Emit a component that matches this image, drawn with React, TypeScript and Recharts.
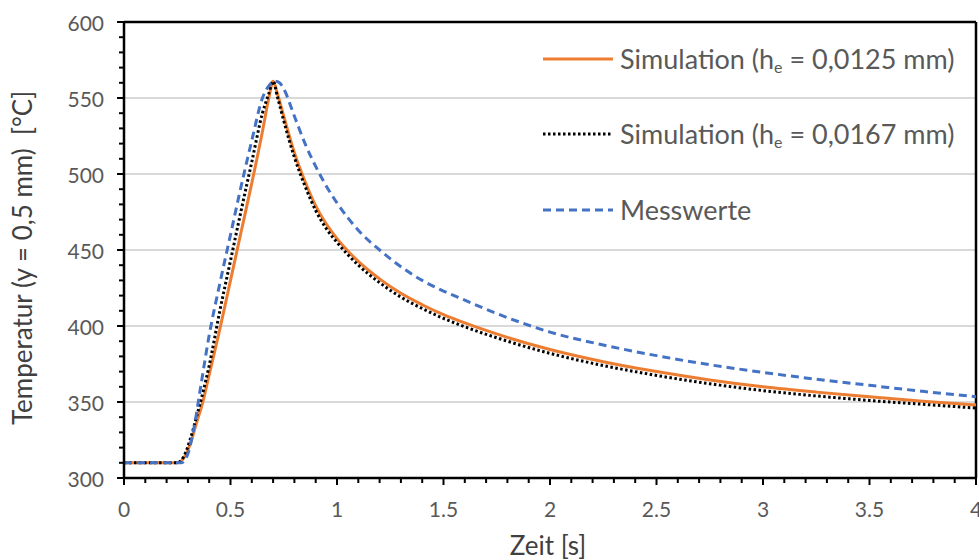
import {
  CartesianGrid,
  Line,
  LineChart,
  ReferenceLine,
  XAxis,
  YAxis,
} from "recharts";

// Simulation (h_e = 0,0125 mm)
const simFineTime = [0, 0.25, 0.28, 0.31, 0.34, 0.37, 0.4, 0.45, 0.5, 0.55, 0.6, 0.65, 0.68, 0.7, 0.72, 0.75, 0.8, 0.85, 0.9, 0.95, 1, 1.05, 1.1, 1.2, 1.3, 1.4, 1.5, 1.6, 1.8, 2, 2.25, 2.5, 2.75, 3, 3.25, 3.5, 3.75, 4];
const simFineTemp = [310, 310, 313, 322, 336, 350, 368, 398, 430, 462, 494, 528, 550, 561, 553, 538, 514, 495, 479, 467, 457.5, 449.5, 442.5, 431, 421.5, 414, 407.5, 402, 392.5, 384.5, 376.5, 370, 364.5, 360, 356.5, 353.5, 350.5, 348];

// Simulation (h_e = 0,0167 mm)
const simCoarseTime = simFineTime;
const simCoarseTemp = [310, 310, 314, 325, 340, 356, 374, 410, 443, 476, 508, 540, 553, 561, 551, 535, 511, 492, 476, 464, 455, 447, 440, 428.5, 419, 411.5, 405, 399.5, 390, 382, 374, 367.5, 362, 357.5, 354, 351, 348.5, 346];

// Messwerte
const measTime = [0, 0.27, 0.3, 0.33, 0.36, 0.4, 0.45, 0.5, 0.55, 0.6, 0.65, 0.68, 0.71, 0.73, 0.75, 0.8, 0.85, 0.9, 0.95, 1, 1.1, 1.2, 1.3, 1.4, 1.5, 1.6, 1.7, 1.8, 1.9, 2, 2.25, 2.5, 2.75, 3, 3.25, 3.5, 3.75, 4];
const measTemp = [310, 310, 316, 334, 360, 394, 428, 460, 492, 522, 550, 558, 561, 560, 556, 538, 520, 505, 492, 481, 463, 450, 439, 430, 423, 417, 411, 405.5, 400.5, 396, 387.5, 380.5, 374.5, 369.5, 365, 361, 357, 353.5];

const xMajorTicks = [0, 0.5, 1, 1.5, 2, 2.5, 3, 3.5, 4];
const yMajorTicks = [300, 350, 400, 450, 500, 550, 600];
const gridValues = [350, 400, 450, 500, 550];
const legendNames = ["0,0125", "0,0167", "Messwerte"];

const xTicks = Array.from({ length: 41 }, (_, i) => i / 10);
const yTicks = Array.from({ length: 31 }, (_, i) => 300 + i * 10);

const FONT = 'Lato, "Open Sans", sans-serif';
const ORANGE = "#ED7D31";
const BLUE = "#4472C4";

const toPoints = (ts: number[], vs: number[]) => ts.map((t, i) => ({ t, v: vs[i] }));

const fineData = toPoints(simFineTime, simFineTemp);
const coarseData = toPoints(simCoarseTime, simCoarseTemp);
const measData = toPoints(measTime, measTemp);

function XTick(props: any) {
  const { x, y, payload } = props;
  const v = payload.value as number;
  const major = xMajorTicks.some((m) => Math.abs(m - v) < 1e-6);
  return (
    <g>
      <line x1={x} x2={x} y1={y} y2={y + (major ? 7 : 5)} stroke="#000" strokeWidth={2} />
      {major && (
        <text x={x} y={y + 30} textAnchor="middle" dominantBaseline="central"
          fontFamily={FONT} fontSize={21} fill="#595959">
          {String(v)}
        </text>
      )}
    </g>
  );
}

function YTick(props: any) {
  const { x, y, payload } = props;
  const v = payload.value as number;
  const major = yMajorTicks.includes(v);
  return (
    <g>
      <line x1={x - (major ? 7 : 5)} x2={x} y1={y} y2={y} stroke="#000" strokeWidth={2} />
      {major && (
        <text x={x - 20} y={y} textAnchor="end" dominantBaseline="central"
          fontFamily={FONT} fontSize={21} fill="#595959">
          {v}
        </text>
      )}
    </g>
  );
}

function ChartLegend() {
  const styles = [
    { stroke: ORANGE, dash: undefined },
    { stroke: "#000", dash: "2.5 2.5" },
    { stroke: BLUE, dash: "8 5" },
  ];
  return (
    <div style={{ position: "absolute", left: 543, top: 21, fontFamily: FONT, fontSize: 27, color: "#595959" }}>
      {legendNames.map((name, i) => (
        <div key={name} style={{ height: 75.5, display: "flex", alignItems: "center", whiteSpace: "nowrap" }}>
          <svg width={72} height={8} style={{ marginRight: 5 }}>
            <line x1={0} x2={70} y1={4} y2={4} stroke={styles[i].stroke}
              strokeWidth={3} strokeDasharray={styles[i].dash} />
          </svg>
          {i < 2 ? (
            <span>
              Simulation (h<sub style={{ fontSize: 16, verticalAlign: -4 }}>e</sub> = {name} mm)
            </span>
          ) : (
            <span>{name}</span>
          )}
        </div>
      ))}
    </div>
  );
}

export default function App() {
  return (
    <div style={{ position: "absolute", left: 0, top: 0, width: 979, height: 560, background: "#fff" }}>
      <LineChart width={979} height={560} margin={{ top: 22, right: 3, bottom: 0, left: 0 }}>
        <CartesianGrid vertical={false} horizontalValues={gridValues} stroke="#d9d9d9" strokeWidth={2} />
        <XAxis
          type="number"
          dataKey="t"
          domain={[0, 4]}
          ticks={xTicks}
          interval={0}
          height={82}
          tickSize={0}
          tickMargin={0}
          tick={<XTick />}
          axisLine={{ stroke: "#000", strokeWidth: 2.5 }}
          label={{
            content: () => (
              <text x={548} y={545} textAnchor="middle" dominantBaseline="central"
                fontFamily={FONT} fontSize={26} fill="#404040">
                Zeit [s]
              </text>
            ),
          }}
        />
        <YAxis
          type="number"
          domain={[300, 600]}
          ticks={yTicks}
          interval={0}
          width={124}
          tickSize={0}
          tickMargin={0}
          tick={<YTick />}
          axisLine={{ stroke: "#000", strokeWidth: 2.5 }}
          label={{
            content: () => (
              <text transform="translate(22,258) rotate(-90)" textAnchor="middle" dominantBaseline="central"
                fontFamily={FONT} fontSize={26} fill="#404040" style={{ whiteSpace: "pre" }}>
                {"Temperatur (y = 0,5 mm)  [°C]"}
              </text>
            ),
          }}
        />
        <ReferenceLine y={600} stroke="#000" strokeWidth={2.5} ifOverflow="visible" />
        <ReferenceLine x={4} stroke="#000" strokeWidth={2.5} ifOverflow="visible" />
        <Line data={fineData} dataKey="v" name="fine" type="monotone" stroke={ORANGE}
          strokeWidth={3} dot={false} isAnimationActive={false} />
        <Line data={coarseData} dataKey="v" name="coarse" type="monotone" stroke="#000"
          strokeWidth={3} strokeDasharray="2.5 2.5" dot={false} isAnimationActive={false} />
        <Line data={measData} dataKey="v" name="meas" type="monotone" stroke={BLUE}
          strokeWidth={3} strokeDasharray="8 5" dot={false} isAnimationActive={false} />
      </LineChart>
      <ChartLegend />
    </div>
  );
}
